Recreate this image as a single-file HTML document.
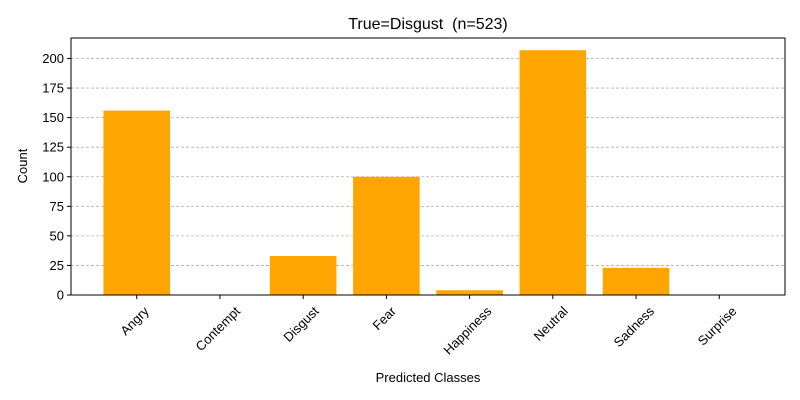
<!DOCTYPE html>
<html><head><meta charset="utf-8"><style>
body{margin:0;background:#fff;}
svg{display:block;font-family:"Liberation Sans","DejaVu Sans",sans-serif;}
</style></head><body>
<svg id="chart" width="800" height="400">
<rect width="800" height="400" fill="#fff"/>
<text x="428" y="29" font-size="16" text-anchor="middle">True=Disgust&#160; (n=523)</text>
<g id="grid"></g><g id="bars"></g><g id="axes"></g>
<text x="428" y="382" font-size="13" text-anchor="middle">Predicted Classes</text>
<text transform="translate(27,166) rotate(-90)" font-size="13" text-anchor="middle">Count</text>
</svg>
<script>
const categories=["Angry","Contempt","Disgust","Fear","Happiness","Neutral","Sadness","Surprise"];
const counts=[156,0,33,100,4,207,23,0];
const yTicks=[0,25,50,75,100,125,150,175,200];
const L=71,R=785,T=38,B=295,NS="http://www.w3.org/2000/svg";
const ymax=Math.max(...counts)*1.05;
const xmin=-0.79,xmax=categories.length-1+0.79;
const xs=i=>L+(i-xmin)/(xmax-xmin)*(R-L);
const ys=v=>B-v/ymax*(B-T);
function mk(t,a,p){const e=document.createElementNS(NS,t);for(const k in a)e.setAttribute(k,a[k]);p.appendChild(e);return e;}
const grid=document.getElementById('grid'),bars=document.getElementById('bars'),axes=document.getElementById('axes');
yTicks.forEach(v=>{
 const y=ys(v);
 if(v>0){const g=mk('line',{x1:L,x2:R,y1:y,y2:y,stroke:'#b0b0b0','stroke-dasharray':'3,2','stroke-width':0.8},grid);
 
 }
 mk('line',{x1:L-4,x2:L,y1:y,y2:y,stroke:'#000'},axes);
 const t=mk('text',{x:L-7,y:y+4.5,'font-size':13,'text-anchor':'end'},axes);t.textContent=v;
 
 
});
const bw=0.8*(xs(1)-xs(0));
categories.forEach((c,i)=>{
 const x=xs(i),y=ys(counts[i]);
 const r=mk('rect',{x:x-bw/2,y:y,width:bw,height:B-y,fill:'#ffa500'},bars);
 
 
 mk('line',{x1:x,x2:x,y1:B,y2:B+4,stroke:'#000'},axes);
 const t=mk('text',{'font-size':13,'text-anchor':'end'},axes);t.textContent=c;
 const w=t.getComputedTextLength();
 t.setAttribute('transform',`translate(${x+0.354*w+1},${B+17}) rotate(-45)`);
 
 
});
const f=mk('rect',{x:L,y:T,width:R-L,height:B-T,fill:'none',stroke:'#000','stroke-width':1},axes);


</script>
</body></html>
